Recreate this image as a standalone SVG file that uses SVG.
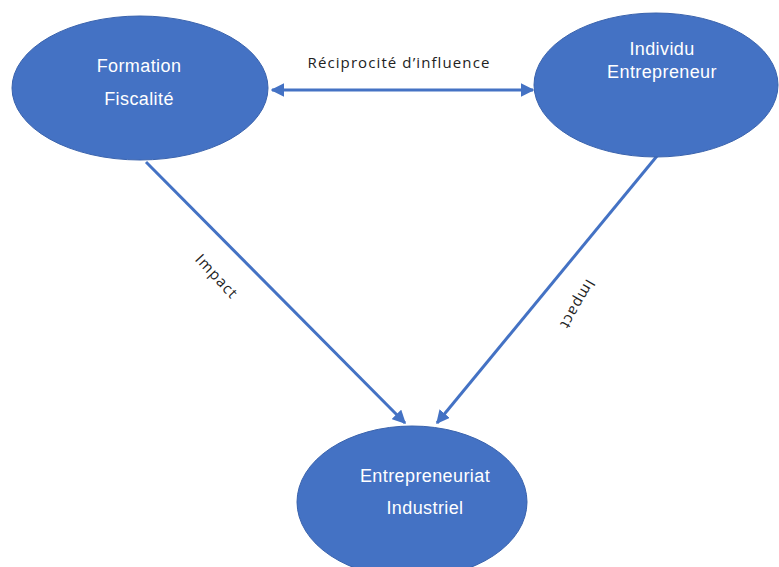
<svg xmlns="http://www.w3.org/2000/svg" width="779" height="567" viewBox="0 0 779 567">
<defs>
<style>
.node{fill:#4472C4;stroke:#3A63AD;stroke-width:1}
.nt{font-family:"Liberation Sans",Arial,sans-serif;font-size:18px;letter-spacing:0.4px;fill:#fff;text-anchor:middle}
.edge{stroke:#4472C4;stroke-width:3;fill:none}
.lbl{font-family:"Open Sans","DejaVu Sans",sans-serif;font-size:15px;letter-spacing:1.1px;fill:#222;text-anchor:middle}
</style>
<marker id="ah" viewBox="0 0 10 10" refX="9" refY="5" markerWidth="4.5" markerHeight="4.5" orient="auto-start-reverse" markerUnits="strokeWidth">
<path d="M0,0 L10,5 L0,10 z" fill="#4472C4"/>
</marker>
</defs>
<rect width="779" height="567" fill="#fff"/>
<g id="connectors">
<line class="edge" x1="272" y1="90" x2="533" y2="90" marker-start="url(#ah)" marker-end="url(#ah)"/>
<line class="edge" x1="146" y1="162" x2="405" y2="423" marker-end="url(#ah)"/>
<line class="edge" x1="657" y1="156" x2="437" y2="423" marker-end="url(#ah)"/>
<text class="lbl" x="399" y="68">Réciprocité d’influence</text>
<text class="lbl" transform="translate(213,280) rotate(47)">Impact</text>
<text class="lbl" transform="translate(573,302) rotate(120)">Impact</text>
</g>
<g id="formation">
<ellipse class="node" cx="140" cy="88" rx="128" ry="72"/>
<text class="nt" x="139" y="72">Formation</text>
<text class="nt" x="139" y="105">Fiscalité</text>
</g>
<g id="individu">
<ellipse class="node" cx="656" cy="85" rx="122" ry="72"/>
<text class="nt" x="662" y="55">Individu</text>
<text class="nt" x="662" y="78">Entrepreneur</text>
</g>
<g id="entrepreneuriat">
<ellipse class="node" cx="412" cy="502" rx="115" ry="76"/>
<text class="nt" x="425" y="482">Entrepreneuriat</text>
<text class="nt" x="425" y="514">Industriel</text>
</g>
</svg>
